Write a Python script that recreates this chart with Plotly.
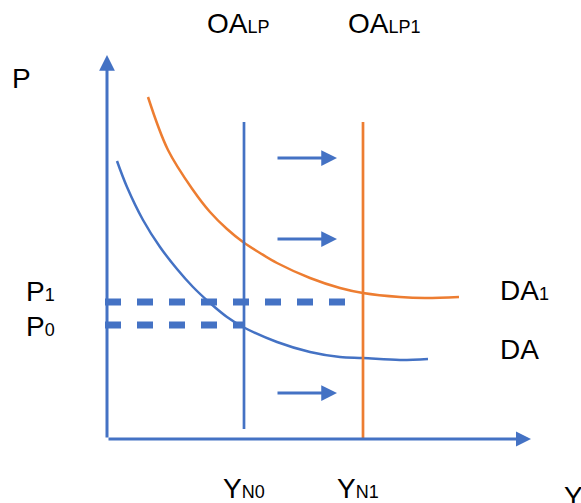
import plotly.graph_objects as go

BLUE = "#4472C4"
ORANGE = "#ED7D31"
FONT = "Liberation Sans, Arial, sans-serif"

# ---- data (chart units: origin at the axes corner) ----
da_x = [10, 20, 36, 53, 70, 86, 103, 120, 136, 170, 203, 233, 256, 293, 321]
da_y = [278, 252, 219, 192, 170, 152, 136, 122, 112, 97, 87, 82, 81, 79, 80]
da1_x = [41, 61, 86, 103, 120, 136, 153, 170, 203, 233, 256, 293, 318, 352]
da1_y = [342, 289, 249, 227, 210, 197, 186, 176, 161, 151, 146, 142, 141, 142]
y_n0, y_n1 = 137, 256
p0, p1 = 114, 137
oalp_bottom, oalp_top = 10, 317
oalp1_bottom = 0
dash_start = -2
p1_dash_end = 238
shift_arrow_y = [281, 200, 46]
shift_arrow_x = [169, 230]
axis_x_max, axis_y_max = 424, 384

fig = go.Figure()

# demand curves
fig.add_trace(go.Scatter(x=da_x, y=da_y, mode="lines", line=dict(color=BLUE, width=2.5, shape="spline"),
                         hoverinfo="skip"))
fig.add_trace(go.Scatter(x=da1_x, y=da1_y, mode="lines", line=dict(color=ORANGE, width=2.5, shape="spline"),
                         hoverinfo="skip"))
# long-run supply lines
fig.add_trace(go.Scatter(x=[y_n0, y_n0], y=[oalp_bottom, oalp_top], mode="lines",
                         line=dict(color=BLUE, width=2.7), hoverinfo="skip"))
fig.add_trace(go.Scatter(x=[y_n1, y_n1], y=[oalp1_bottom, oalp_top], mode="lines",
                         line=dict(color=ORANGE, width=2.7), hoverinfo="skip"))
# dashed price levels
fig.add_trace(go.Scatter(x=[dash_start, p1_dash_end], y=[p1, p1], mode="lines",
                         line=dict(color=BLUE, width=7, dash="16px,16px"), hoverinfo="skip"))
fig.add_trace(go.Scatter(x=[dash_start, y_n0], y=[p0, p0], mode="lines",
                         line=dict(color=BLUE, width=7, dash="16px,16px"), hoverinfo="skip"))

annotations = []
# axes with arrow heads
annotations.append(dict(x=0, y=axis_y_max, ax=0, ay=0, xref="x", yref="y", axref="x", ayref="y",
                        text="", showarrow=True, arrowhead=2, arrowsize=1.05, arrowwidth=3,
                        arrowcolor=BLUE, standoff=0))
annotations.append(dict(x=axis_x_max, y=0, ax=0, ay=0, xref="x", yref="y", axref="x", ayref="y",
                        text="", showarrow=True, arrowhead=2, arrowsize=1.0, arrowwidth=3,
                        arrowcolor=BLUE, standoff=0))
# shift arrows
for ya in shift_arrow_y:
    annotations.append(dict(x=shift_arrow_x[1], y=ya, ax=shift_arrow_x[0], ay=ya, xref="x", yref="y",
                            axref="x", ayref="y", text="", showarrow=True, arrowhead=2,
                            arrowsize=1.05, arrowwidth=3, arrowcolor=BLUE, standoff=0))

SUB = '<span style="font-size:18px">{}</span>'
labels = [
    ("P", -97, 343, "bottom"),
    ("OA" + SUB.format("LP"), 97.6, 398, "bottom"),
    ("OA" + SUB.format("LP1"), 238.6, 398, "bottom"),
    ("P" + SUB.format("1"), -83, 130, "bottom"),
    ("P" + SUB.format("0"), -83, 95, "bottom"),
    ("DA" + SUB.format("1"), 390.8, 131, "bottom"),
    ("DA", 390.8, 72, "bottom"),
    ("Y" + SUB.format("N0"), 114, -31.7, "top"),
    ("Y" + SUB.format("N1"), 228, -31.7, "top"),
    ("Y", 455, -39.7, "top"),
]
for txt, xx, yy, ya in labels:
    annotations.append(dict(x=xx, y=yy, xref="x", yref="y", text=txt, showarrow=False,
                            xanchor="left", yanchor=ya, font=dict(family=FONT, size=28, color="black")))

fig.update_layout(
    width=581, height=503, autosize=False,
    margin=dict(l=0, r=0, t=0, b=0),
    paper_bgcolor="white", plot_bgcolor="white",
    showlegend=False,
    xaxis=dict(range=[-107, 474], visible=False, fixedrange=True),
    yaxis=dict(range=[-64, 439], visible=False, fixedrange=True),
    annotations=annotations,
)

fig.write_html("out.html", config={"displayModeBar": False},
               post_script="document.body.style.margin='0px';document.body.style.overflow='hidden';")
